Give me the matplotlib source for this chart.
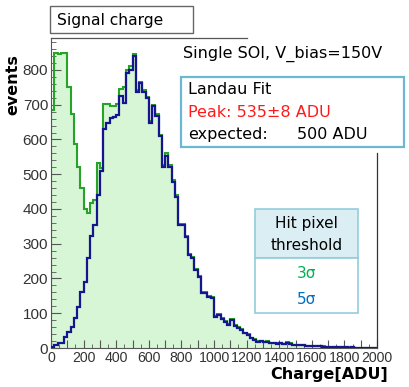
import numpy as np
import matplotlib.pyplot as plt
from matplotlib.patches import Rectangle
from matplotlib.lines import Line2D
from matplotlib.ticker import MultipleLocator, FuncFormatter

# histogram binning: 0..2000 ADU, 20 ADU bins
bin_edges = np.arange(0, 2001, 20)

# events per bin, hit pixel threshold 3 sigma (green, filled)
counts_3sigma = [
    685, 850, 846, 848, 848, 752, 673, 587, 522, 460,
    399, 388, 418, 426, 532, 517, 702, 702, 696, 696,
    702, 745, 750, 800, 810, 845, 742, 766, 742, 722,
    652, 700, 672, 614, 528, 560, 527, 484, 440, 358,
    357, 323, 271, 261, 227, 208, 160, 160, 151, 146,
    93, 97, 85, 78, 68, 83, 65, 59, 54, 44,
    39, 30, 25, 19, 21, 18, 19, 15, 14, 13,
    14, 12, 16, 13, 10, 10, 9, 9, 7, 7,
    6, 6, 5, 5, 4, 4, 4, 3, 3, 2,
    2, 2, 2, 1, 1, 1, 1, 1, 1, 1,
]

# events per bin, hit pixel threshold 5 sigma (blue line)
counts_5sigma = [
    3, 8, 13, 13, 33, 47, 61, 85, 117, 162,
    191, 258, 322, 354, 440, 510, 630, 648, 661, 666,
    671, 725, 705, 790, 800, 840, 738, 762, 738, 718,
    647, 696, 668, 610, 522, 553, 522, 479, 435, 354,
    354, 320, 268, 258, 224, 205, 157, 157, 148, 143,
    90, 95, 83, 76, 66, 81, 63, 57, 52, 42,
    37, 28, 24, 18, 20, 17, 18, 14, 13, 12,
    13, 11, 15, 12, 9, 10, 8, 9, 6, 7,
    5, 6, 5, 4, 4, 3, 4, 2, 3, 2,
    2, 1, 2, 1, 1, 1, 1, 1, 0, 1,
]

W, H = 409, 387


def fx(px):
    return px / W


def fy(py):
    return 1 - py / H


fig = plt.figure(figsize=(W / 100, H / 100), dpi=100)
ax = fig.add_axes([fx(51), fy(348), (377 - 51) / W, (348 - 38) / H])

ax.stairs(counts_3sigma, bin_edges, fill=True, color='#d6f6d6', zorder=1)
ax.stairs(counts_3sigma, bin_edges, color='#27a327', lw=1.5, zorder=2)
ax.stairs(counts_5sigma, bin_edges, color='#15158f', lw=1.6, zorder=3)

ax.set_xlim(0, 2000)
ax.set_ylim(0, 892)

# ROOT style frame: top and right lines partly hidden by the pasted labels
for s in ['top', 'right']:
    ax.spines[s].set_visible(False)
for s in ['left', 'bottom']:
    ax.spines[s].set_color('#555555')
ax.add_line(Line2D([0, (247 - 51) / 326], [1, 1], transform=ax.transAxes,
                   color='#555555', lw=0.9, clip_on=False))
ax.add_line(Line2D([1, 1], [0, (348 - 153) / 310], transform=ax.transAxes,
                   color='#333333', lw=0.9, clip_on=False))

ax.xaxis.set_major_locator(MultipleLocator(100))
ax.xaxis.set_minor_locator(MultipleLocator(50))
ax.xaxis.set_major_formatter(FuncFormatter(lambda v, p: f'{int(v)}' if int(v) % 200 == 0 else ''))
ax.yaxis.set_major_locator(MultipleLocator(100))
ax.yaxis.set_minor_locator(MultipleLocator(20))

ax.tick_params(axis='both', which='both', direction='in', color='#555555', labelcolor='#333333')
ax.tick_params(axis='x', which='major', length=6, pad=2)
ax.tick_params(axis='x', which='minor', length=3)
ax.tick_params(axis='y', which='major', length=7, pad=2)
ax.tick_params(axis='y', which='minor', length=3.5)
for lab in ax.get_xticklabels():
    lab.set_family('Liberation Sans')
    lab.set_fontsize(10.2)
for lab in ax.get_yticklabels():
    lab.set_family('Liberation Sans')
    lab.set_fontsize(11)

fig.text(fx(12.5), fy(85), 'events', rotation=90, ha='center', va='center',
         fontsize=11.5, fontweight='bold')
fig.text(fx(388), fy(375), 'Charge[ADU]', ha='right', va='center',
         fontsize=11.5, fontweight='bold')

# title box
fig.patches.append(Rectangle((fx(50), fy(33)), 143 / W, 27 / H, transform=fig.transFigure,
                             facecolor='white', edgecolor='#666666', lw=1))
fig.text(fx(57), fy(20), 'Signal charge', ha='left', va='center', fontsize=11.2)

fig.text(fx(183), fy(54), 'Single SOI, V_bias=150V', ha='left', va='center', fontsize=11.5)

# fit result box
fig.patches.append(Rectangle((fx(181), fy(147)), (404 - 181) / W, 70 / H, transform=fig.transFigure,
                             facecolor='white', edgecolor='#6db7d2', lw=1.6))
fig.text(fx(188), fy(90), 'Landau Fit', ha='left', va='center', fontsize=11.5)
fig.text(fx(188), fy(112.5), 'Peak: 535±8 ADU', ha='left', va='center', fontsize=11.5, color='#ff1a1a')
fig.text(fx(188), fy(135), 'expected:', ha='left', va='center', fontsize=11.5)
fig.text(fx(297), fy(135), '500 ADU', ha='left', va='center', fontsize=11.5)

# threshold legend table
fig.patches.append(Rectangle((fx(255), fy(258)), 103 / W, 49 / H, transform=fig.transFigure,
                             facecolor='#dbeef4', edgecolor='#92cddc', lw=1.2))
fig.patches.append(Rectangle((fx(255), fy(313)), 103 / W, 55 / H, transform=fig.transFigure,
                             facecolor='white', edgecolor='#92cddc', lw=1.2))
fig.text(fx(306.5), fy(224), 'Hit pixel', ha='center', va='center', fontsize=11)
fig.text(fx(306.5), fy(245), 'threshold', ha='center', va='center', fontsize=11)
fig.text(fx(306.5), fy(273), '3σ', ha='center', va='center', fontsize=11, color='#00b050')
fig.text(fx(306.5), fy(300), '5σ', ha='center', va='center', fontsize=11, color='#0070c0')

fig.savefig('out.png', dpi=100)
